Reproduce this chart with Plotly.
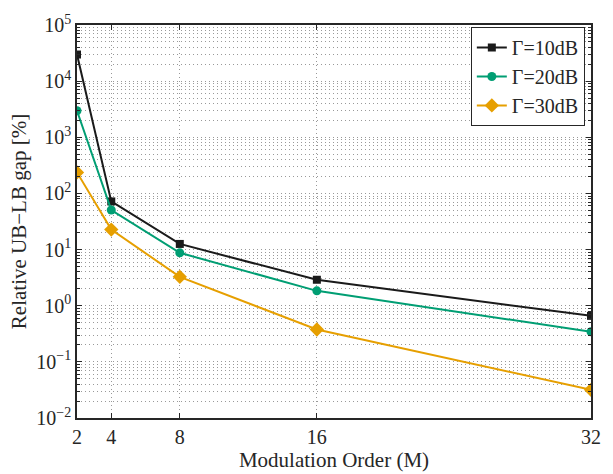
import plotly.graph_objects as go

# Modulation orders and relative UB-LB gaps (%) per SNR setting
mod_order = [2, 4, 8, 16, 32]
gap_10db = [29800, 72, 12.6, 2.9, 0.66]
gap_20db = [2970, 50.6, 8.75, 1.84, 0.344]
gap_30db = [237, 22.7, 3.27, 0.377, 0.0318]
series_names = ["Γ=10dB", "Γ=20dB", "Γ=30dB"]

decade_exponents = [-2, -1, 0, 1, 2, 3, 4, 5]
y_tick_vals = [10.0 ** e for e in decade_exponents]
y_tick_text = ["10<sup>%s</sup>" % str(e).replace("-", "−") for e in decade_exponents]
# minor log ticks at 2..9 within each decade
y_minor_vals = [m * 10.0 ** e for e in decade_exponents[:-1] for m in range(2, 10)]

colors = ["#1a1a1a", "#009e73", "#e69f00"]
symbols = ["square", "circle", "diamond"]
sizes = [8, 9, 11]

fig = go.Figure()
for name, vals, c, s, sz in zip(series_names, [gap_10db, gap_20db, gap_30db], colors, symbols, sizes):
    fig.add_trace(go.Scatter(
        x=mod_order, y=vals, name=name, mode="lines+markers",
        line=dict(color=c, width=2),
        marker=dict(symbol=s, size=sz, color=c),
    ))

font_family = "Liberation Serif"
ink = "#262626"
grid_color = "#999999"
axis_common = dict(
    showline=True, linecolor=ink, linewidth=1.5, mirror="ticks",
    ticks="inside", ticklen=5, tickcolor=ink,
    showgrid=True, gridcolor=grid_color, griddash="1px,3px", gridwidth=1,
    zeroline=False,
    tickfont=dict(family=font_family, size=20, color=ink),
)

fig.update_xaxes(
    **axis_common,
    range=[2, 32], tickvals=mod_order, ticktext=[str(m) for m in mod_order],
    title=dict(text="Modulation Order (M)", font=dict(family=font_family, size=21, color=ink),
               standoff=0),
)
fig.update_yaxes(
    **axis_common,
    type="log", range=[-2, 5], tickvals=y_tick_vals, ticktext=y_tick_text,
    minor=dict(tickmode="array", tickvals=y_minor_vals, ticks="inside", ticklen=3,
               tickcolor=ink, showgrid=True, gridcolor=grid_color,
               griddash="1px,3px", gridwidth=1),
    title=dict(text="Relative UB−LB gap [%]", font=dict(family=font_family, size=21, color=ink),
               standoff=4),
)

fig.update_layout(
    width=613, height=474,
    margin=dict(l=77, r=18, t=19, b=46),
    paper_bgcolor="white", plot_bgcolor="white",
    showlegend=True,
    legend=dict(
        x=0.988, y=0.995, xanchor="right", yanchor="top",
        bgcolor="white", bordercolor=ink, borderwidth=1,
        font=dict(family=font_family, size=20, color=ink),
        tracegroupgap=0, itemwidth=30,
    ),
)

fig.write_html("out.html")
